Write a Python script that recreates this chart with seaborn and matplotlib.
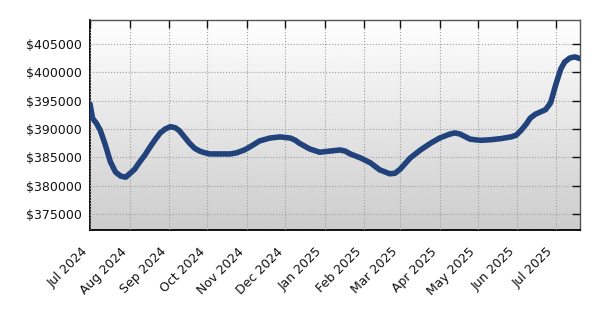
import numpy as np
import pandas as pd
import matplotlib
matplotlib.use('Agg')
import matplotlib.pyplot as plt
import matplotlib.dates as mdates
import matplotlib.ticker as mticker
import seaborn as sns

# Values
dates = ['2024-07-01', '2024-07-03', '2024-07-06', '2024-07-09', '2024-07-13', '2024-07-17',
         '2024-07-21', '2024-07-25', '2024-07-29', '2024-08-01', '2024-08-05', '2024-08-09',
         '2024-08-13', '2024-08-17', '2024-08-21', '2024-08-25', '2024-08-29', '2024-09-02',
         '2024-09-06', '2024-09-09', '2024-09-13', '2024-09-17', '2024-09-21', '2024-09-25',
         '2024-09-29', '2024-10-03', '2024-10-11', '2024-10-19', '2024-10-24', '2024-10-30',
         '2024-11-03', '2024-11-11', '2024-11-19', '2024-11-27', '2024-12-05', '2024-12-09',
         '2024-12-12', '2024-12-20', '2024-12-28', '2025-01-05', '2025-01-13', '2025-01-17',
         '2025-01-21', '2025-01-29', '2025-02-06', '2025-02-13', '2025-02-21', '2025-02-25',
         '2025-03-01', '2025-03-09', '2025-03-17', '2025-03-25', '2025-04-01', '2025-04-09',
         '2025-04-13', '2025-04-17', '2025-04-25', '2025-05-03', '2025-05-11', '2025-05-19',
         '2025-05-27', '2025-05-31', '2025-06-04', '2025-06-08', '2025-06-11', '2025-06-15',
         '2025-06-19', '2025-06-23', '2025-06-27', '2025-07-01', '2025-07-05', '2025-07-08',
         '2025-07-12', '2025-07-16', '2025-07-20']
prices = [394400, 391900, 391000, 389800, 387200, 384200,
          382400, 381700, 381500, 382100, 382900, 384200,
          385400, 386800, 388100, 389300, 390000, 390400,
          390200, 389700, 388600, 387500, 386600, 386100,
          385800, 385600, 385600, 385600, 385800, 386300,
          386800, 387900, 388400, 388600, 388400, 388000,
          387500, 386500, 385900, 386100, 386300, 386100,
          385600, 384900, 384000, 382800, 382100, 382200,
          382900, 384900, 386300, 387500, 388400, 389100,
          389300, 389100, 388200, 388000, 388100, 388300,
          388600, 388900, 389800, 390900, 391900, 392600,
          393000, 393400, 394600, 397800, 400600, 401800,
          402500, 402700, 402400]

df = pd.DataFrame({'date': pd.to_datetime(dates), 'price': prices})

sns.set_style('white')
plt.rcParams['font.family'] = ['DejaVu Sans']

fig = plt.figure(figsize=(5.94, 3.25), dpi=100)
ax = fig.add_axes([0.1515, 0.2923, 0.8249, 0.6462])

# Gradient background, light at top to gray at bottom
grad = np.linspace(0.8, 1.0, 256).reshape(-1, 1)
ax.imshow(grad, cmap='gray', vmin=0, vmax=1, aspect='auto', origin='lower',
          extent=(0, 1, 0, 1), transform=ax.transAxes, zorder=0)

sns.lineplot(data=df, x='date', y='price', ax=ax, color='#21427b', linewidth=4, zorder=3)

ax.set_xlim(pd.Timestamp('2024-07-01'), pd.Timestamp('2025-07-20'))
ax.set_ylim(372200, 409200)

ax.xaxis.set_major_locator(mdates.MonthLocator())
ax.xaxis.set_major_formatter(mdates.DateFormatter('%b %Y'))
ax.yaxis.set_major_locator(mticker.MultipleLocator(5000))
ax.yaxis.set_major_formatter(mticker.FuncFormatter(lambda v, p: f'${v:.0f}'))

ax.tick_params(axis='both', direction='in', length=6, width=1, labelsize=9,
               top=True, right=True, colors='#111111')
ax.tick_params(axis='x', pad=11)
ax.tick_params(axis='y', pad=6)
plt.setp(ax.get_xticklabels(), rotation=45, ha='right')

ax.grid(True, linestyle=':', color='#a0a0a0', linewidth=0.8, zorder=1)
ax.set_axisbelow(False)
for ln in ax.get_xgridlines() + ax.get_ygridlines():
    ln.set_zorder(1)

ax.set_xlabel('')
ax.set_ylabel('')
for side in ['left', 'bottom']:
    ax.spines[side].set_color('#000000')
    ax.spines[side].set_linewidth(1.3)
for side in ['top', 'right']:
    ax.spines[side].set_color('#555555')
    ax.spines[side].set_linewidth(1.0)

fig.savefig('out.png', dpi=100)
